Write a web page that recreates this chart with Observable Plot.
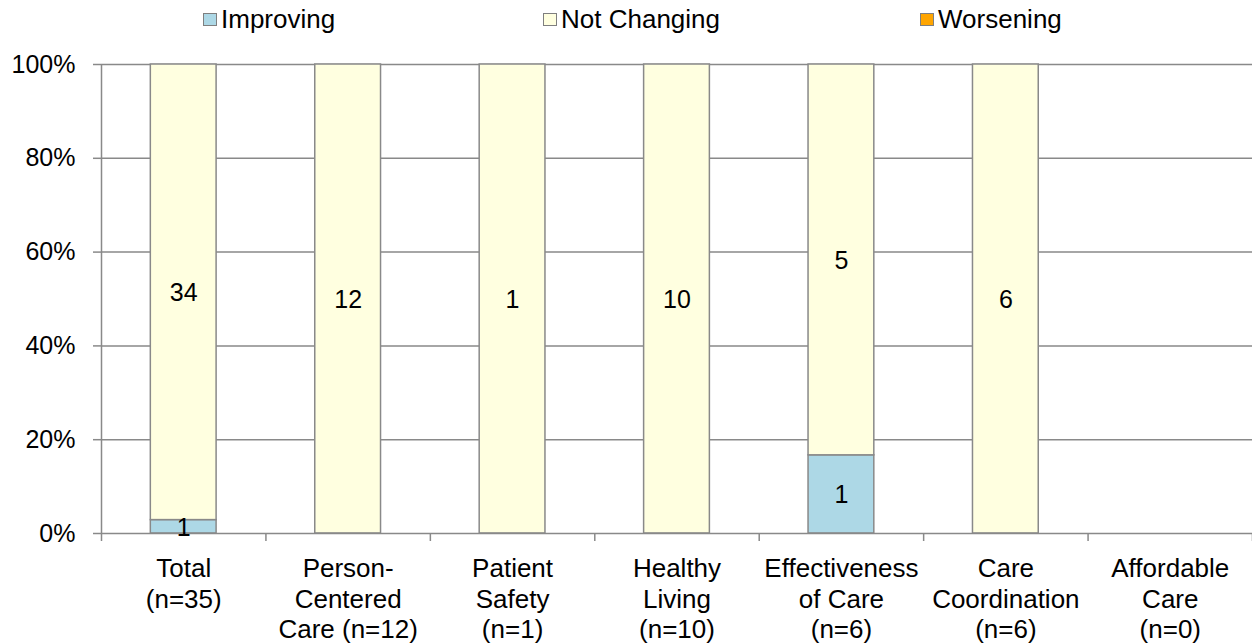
<!DOCTYPE html>
<html>
<head>
<meta charset="utf-8">
<script src="https://cdn.jsdelivr.net/npm/d3@7"></script>
<script src="https://cdn.jsdelivr.net/npm/@observablehq/plot@0.6"></script>
<style>
  html, body { margin: 0; padding: 0; background: #fff; }
  #wrap { position: relative; width: 1252px; height: 643px; font-family: "Liberation Sans", Arial, sans-serif; }
  #legend { position: absolute; top: 6px; left: 0; width: 1252px; height: 30px; font-size: 26px; line-height: 26px; color: #000; }
  .item { position: absolute; top: 0; display: flex; align-items: center; white-space: nowrap; }
  .sw { width: 12px; height: 11px; border: 1.5px solid #7f7f7f; margin-right: 4px; }
</style>
</head>
<body>
<div id="wrap">
  <div id="chart"></div>
  <div id="legend"></div>
</div>
<script>
const categories = [
  "Total\n(n=35)",
  "Person-\nCentered\nCare (n=12)",
  "Patient\nSafety\n(n=1)",
  "Healthy\nLiving\n(n=10)",
  "Effectiveness\nof Care\n(n=6)",
  "Care\nCoordination\n(n=6)",
  "Affordable\nCare\n(n=0)"
];
const improving    = [1, 0, 0, 0, 1, 0, 0];
const notChanging  = [34, 12, 1, 10, 5, 6, 0];
const worsening    = [0, 0, 0, 0, 0, 0, 0];
const seriesNames  = ["Improving", "Not Changing", "Worsening"];
const seriesColors = ["#ADD8E6", "#FFFFE0", "#FFA500"];
const yTicks = [0, 20, 40, 60, 80, 100];

// build stacked table (percent of category total)
const series = [improving, notChanging, worsening];
const table = [];
categories.forEach((c, i) => {
  const total = d3.sum(series, s => s[i]);
  let acc = 0;
  series.forEach((s, k) => {
    const v = s[i];
    if (total > 0 && v > 0) {
      const y1 = acc / total * 100;
      acc += v;
      const y2 = acc / total * 100;
      table.push({i, name: seriesNames[k], count: v, y1, y2});
    }
  });
});

const gray = "#898989";
const chart = Plot.plot({
  width: 1252,
  height: 643,
  marginLeft: 101,
  marginRight: 0,
  marginTop: 64,
  marginBottom: 110,
  style: {fontFamily: "'Liberation Sans', Arial, sans-serif", fontSize: "25px", color: "#000", background: "#fff"},
  x: {domain: [0, categories.length], axis: null},
  y: {domain: [0, 100], axis: null},
  color: {domain: seriesNames, range: seriesColors},
  marks: [
    Plot.ruleY(yTicks.filter(t => t > 0), {stroke: gray, strokeWidth: 1.5}),
    Plot.axisY({ticks: yTicks, tickFormat: d => d + "%", tickSize: 8, tickPadding: 18, stroke: gray, strokeWidth: 1.5, fontSize: 25, label: null, strokeOpacity: 1, fill: "#000"}),
    Plot.axisX({ticks: d3.range(categories.length + 1), tickFormat: () => "", tickSize: 8, stroke: gray, strokeWidth: 1.5, strokeOpacity: 1, label: null}),
    Plot.rect(table, {
      x1: d => d.i + 0.3, x2: d => d.i + 0.7,
      y1: "y1", y2: "y2",
      fill: "name", stroke: gray, strokeWidth: 1.5
    }),
    Plot.ruleX([0], {stroke: gray, strokeWidth: 1.5}),
    Plot.ruleY([0], {stroke: gray, strokeWidth: 1.5}),
    Plot.text(table, {
      x: d => d.i + 0.5, y: d => (d.y1 + d.y2) / 2,
      text: d => String(d.count), fontSize: 25, fill: "#000", dy: 1
    }),
    Plot.text(categories, {
      x: (d, i) => i + 0.5, text: d => d,
      frameAnchor: "bottom", lineAnchor: "top", dy: 22, lineHeight: 1.17,
      fontSize: 26, fill: "#000"
    })
  ]
});
document.getElementById("chart").appendChild(chart);

// legend
const legendX = [203, 543, 920];
const legend = document.getElementById("legend");
seriesNames.forEach((n, k) => {
  const it = document.createElement("div");
  it.className = "item";
  it.style.left = legendX[k] + "px";
  const sw = document.createElement("span");
  sw.className = "sw";
  sw.style.background = seriesColors[k];
  const tx = document.createElement("span");
  tx.textContent = n;
  it.appendChild(sw);
  it.appendChild(tx);
  legend.appendChild(it);
});
</script>
</body>
</html>
